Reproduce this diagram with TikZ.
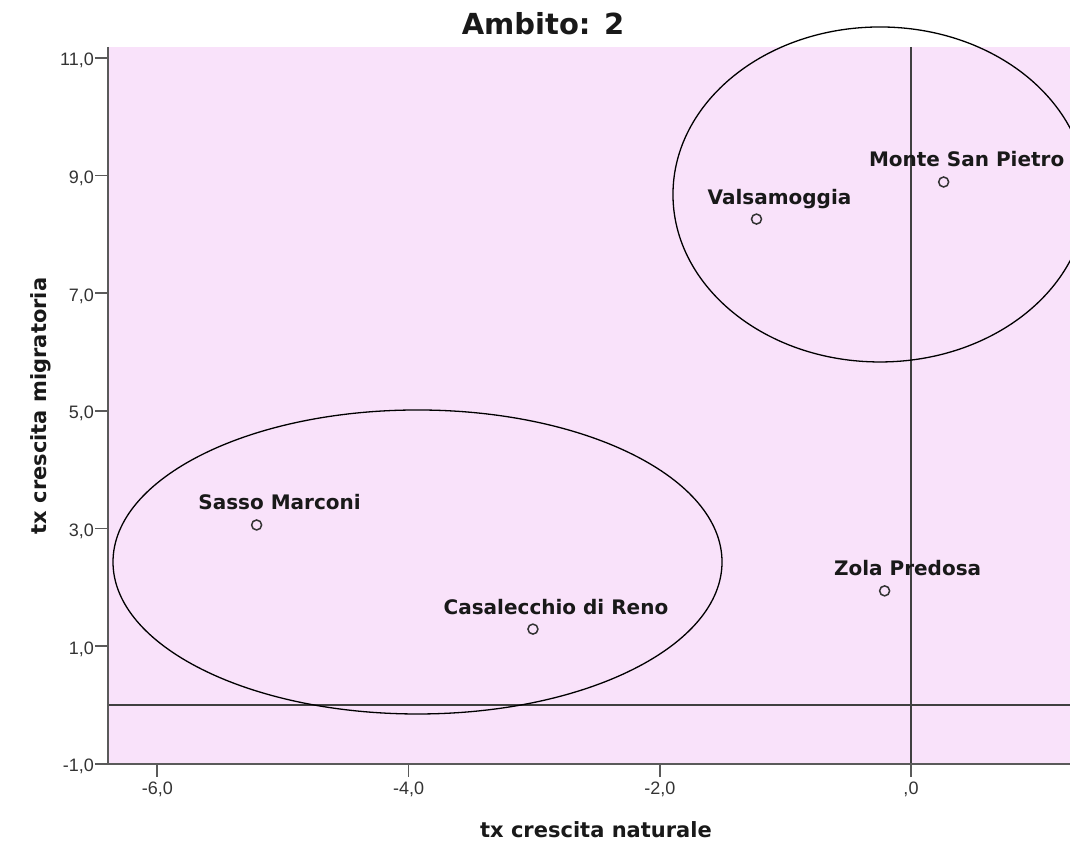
\documentclass[tikz,border=0pt]{standalone}
\usepackage{fontspec}
\setmainfont{DejaVu Sans}
\newfontfamily\tickfont{Liberation Sans}
\definecolor{plotpink}{RGB}{249,226,250}
\definecolor{axisgray}{RGB}{90,90,90}
\tikzset{
	datapoint/.style={circle, draw=black!80, fill=plotpink, line width=1.5pt, minimum size=10pt, inner sep=0pt},
	ptlabel/.style={font=\fontsize{20}{24}\selectfont\bfseries, text=black!90, anchor=base, xshift=23pt, yshift=15pt},
	ticklabel/.style={font=\tickfont\fontsize{18}{21}\selectfont, text=black!80, inner sep=0pt},
	axlabel/.style={font=\fontsize{21}{25}\selectfont\bfseries, text=black!90, inner sep=0pt, anchor=base}
}

\begin{document}
\begin{tikzpicture}[x=125.6pt, y=58.83pt]
		%%%%% START %%%%%
		
		\useasboundingbox (-7.2532, -2.3287) rectangle (1.2659, 11.9837);
		
		\fill[plotpink] (-6.393, -1) rectangle (1.2659, 11.185);
		
		\draw[line width=1.2pt, color=black!75] (0, 11.185) -- (0, -1);
		\draw[line width=1.2pt, color=black!75] (-6.393, 0) -- (1.2659, 0);
		
		\draw[line width=1.5pt, color=axisgray] (-6.393, 11.185) -- (-6.393, -1) -- (1.2659, -1);
		
		\draw[line width=1.8pt, color=axisgray] (-6.393, 11) -- ++(-13pt, 0);
		\draw[line width=1.8pt, color=axisgray] (-6.393, 9) -- ++(-13pt, 0);
		\draw[line width=1.8pt, color=axisgray] (-6.393, 7) -- ++(-13pt, 0);
		\draw[line width=1.8pt, color=axisgray] (-6.393, 5) -- ++(-13pt, 0);
		\draw[line width=1.8pt, color=axisgray] (-6.393, 3) -- ++(-13pt, 0);
		\draw[line width=1.8pt, color=axisgray] (-6.393, 1) -- ++(-13pt, 0);
		\draw[line width=1.8pt, color=axisgray] (-6.393, -1) -- ++(-13pt, 0);
		\node[ticklabel, anchor=east, xshift=-14pt, yshift=-3pt] (y11) at (-6.393, 11) {11,0};
		\node[ticklabel, anchor=east, xshift=-14pt, yshift=-3pt] (y9) at (-6.393, 9) {9,0};
		\node[ticklabel, anchor=east, xshift=-14pt, yshift=-3pt] (y7) at (-6.393, 7) {7,0};
		\node[ticklabel, anchor=east, xshift=-14pt, yshift=-3pt] (y5) at (-6.393, 5) {5,0};
		\node[ticklabel, anchor=east, xshift=-14pt, yshift=-3pt] (y3) at (-6.393, 3) {3,0};
		\node[ticklabel, anchor=east, xshift=-14pt, yshift=-3pt] (y1) at (-6.393, 1) {1,0};
		\node[ticklabel, anchor=east, xshift=-14pt, yshift=-3pt] (ym1) at (-6.393, -1) {-1,0};
		
		\draw[line width=1.8pt, color=axisgray] (-6, -1) -- ++(0, -13pt);
		\draw[line width=1.8pt, color=axisgray] (-4, -1) -- ++(0, -13pt);
		\draw[line width=1.8pt, color=axisgray] (-2, -1) -- ++(0, -13pt);
		\draw[line width=1.8pt, color=axisgray] (0, -1) -- ++(0, -13pt);
		\node[ticklabel, anchor=north, yshift=-18pt] (xm6) at (-6, -1) {-6,0};
		\node[ticklabel, anchor=north, yshift=-18pt] (xm4) at (-4, -1) {-4,0};
		\node[ticklabel, anchor=north, yshift=-18pt] (xm2) at (-2, -1) {-2,0};
		\node[ticklabel, anchor=north, yshift=-18pt] (x0) at (0, -1) {,0};
		
		\draw[line width=1.3pt] (-0.247, 8.678) ellipse (207pt and 167.5pt);
		\draw[line width=1.3pt] (-3.929, 2.431) ellipse (304.5pt and 152pt);
		
		\node[datapoint] (msp) at (0.26, 8.89) {};
		\node[datapoint] (vsm) at (-1.23, 8.26) {};
		\node[datapoint] (ssm) at (-5.21, 3.06) {};
		\node[datapoint] (cdr) at (-3.01, 1.29) {};
		\node[datapoint] (zlp) at (-0.21, 1.94) {};
		\node[ptlabel] (msplab) at (msp) {Monte San Pietro};
		\node[ptlabel] (vsmlab) at (vsm) {Valsamoggia};
		\node[ptlabel] (ssmlab) at (ssm) {Sasso Marconi};
		\node[ptlabel] (cdrlab) at (cdr) {Casalecchio di Reno};
		\node[ptlabel] (zlplab) at (zlp) {Zola Predosa};
		
		\node[font=\fontsize{29}{34}\selectfont\bfseries, text=black!90, anchor=base] (title) at (-2.930, 11.389) {Ambito: 2};
		\node[axlabel] (xlab) at (-2.508, -2.244) {tx crescita naturale};
		\node[axlabel, rotate=90] (ylab) at (-6.879, 5.082) {tx crescita migratoria};
		
		%%%%% END %%%%%
	\end{tikzpicture}
\end{document}
